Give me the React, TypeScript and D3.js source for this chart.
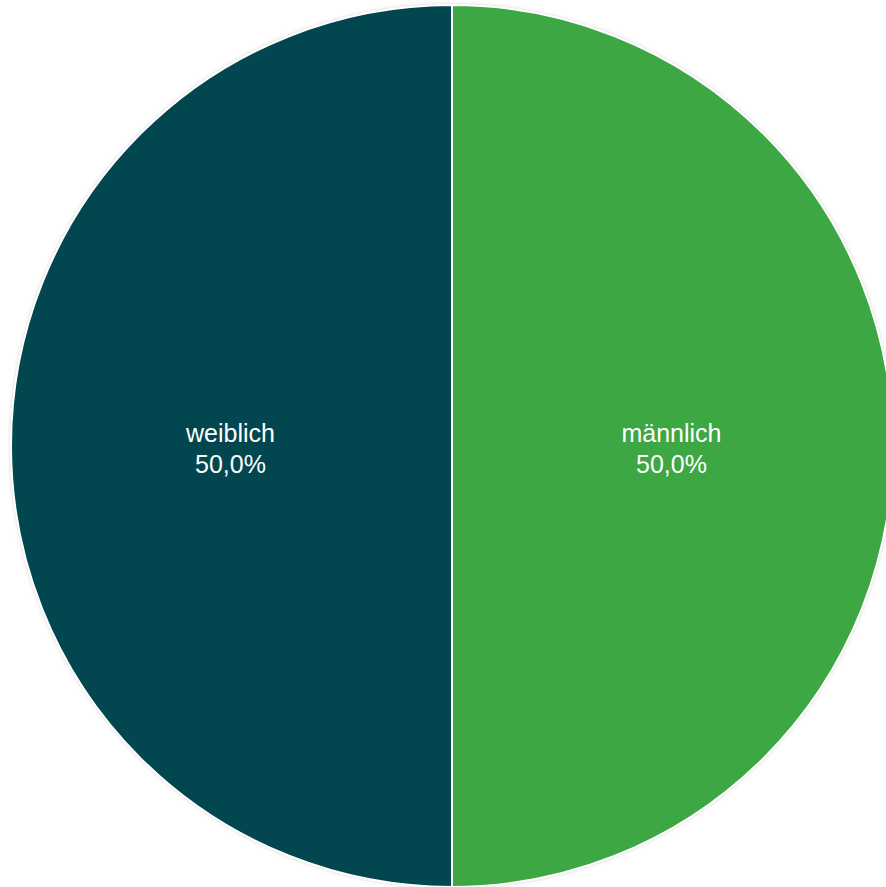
import React from "react";
import * as d3 from "d3";

const categories = ["männlich", "weiblich"];
const values = [50.0, 50.0];
const colors = ["#3ca743", "#02474f"];

export default function App() {
  const W = 886, H = 887;
  const cx = 452, cy = 446, r = 441;
  const pie = d3.pie<number>().sort(null).startAngle(0).endAngle(2 * Math.PI);
  const arcs = pie(values);
  const arc = d3.arc<d3.PieArcDatum<number>>().innerRadius(0).outerRadius(r);
  const labelArc = d3.arc<d3.PieArcDatum<number>>().innerRadius(r * 0.5).outerRadius(r * 0.5);
  const fmt = (v: number) => v.toFixed(1).replace(".", ",") + "%";
  return (
    <svg width={W} height={H} style={{ position: "fixed", left: 0, top: 0, background: "#fff" }}>
      <defs>
        <filter id="sh" x="-10%" y="-10%" width="120%" height="120%">
          <feDropShadow dx="0" dy="0" stdDeviation="2" floodColor="#000" floodOpacity="0.25" />
        </filter>
      </defs>
      <g transform={`translate(${cx},${cy})`}>
        <circle r={r} fill="#fff" filter="url(#sh)" />
        {arcs.map((a, i) => (
          <path key={i} d={arc(a) || ""} fill={colors[i]} stroke="#fff" strokeWidth={2} />
        ))}
        {arcs.map((a, i) => {
          const [x, y] = labelArc.centroid(a);
          return (
            <text key={"t" + i} x={x} y={y} fill="#fff" fontFamily="Liberation Sans, Arial, sans-serif" fontSize={25} textAnchor="middle">
              <tspan x={x - 1} dy={-4}>{categories[i]}</tspan>
              <tspan x={x - 1} dy={31}>{fmt(values[i])}</tspan>
            </text>
          );
        })}
      </g>
    </svg>
  );
}
